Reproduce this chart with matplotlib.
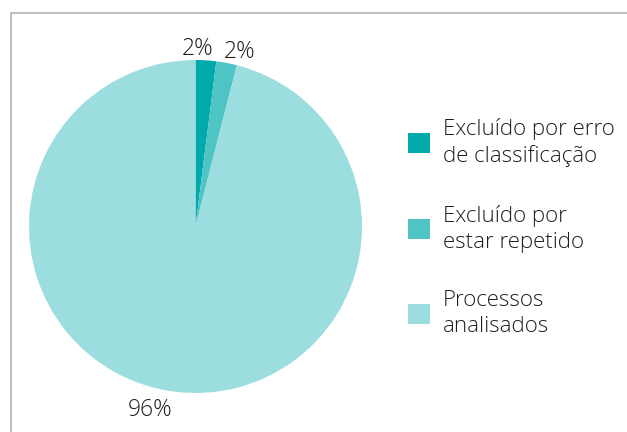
import matplotlib.pyplot as plt
from matplotlib.patches import Rectangle

# data
categories = ["Excluído por erro\nde classificação", "Excluído por\nestar repetido",
              "Processos\nanalisados"]
values = [2, 2, 96]
pct_labels = ["2%", "2%", "96%"]
colors = ["#00A9AA", "#4EC4C4", "#9CDEDF"]

plt.rcParams['font.family'] = ['Open Sans', 'DejaVu Sans']

W, H = 627, 432
fig = plt.figure(figsize=(W / 100, H / 100), dpi=100)

# pie axes: center (195.5, 226.5) px, radius 166.5 px
cx, cy, r = 195.5, 226.5, 166.5
ax = fig.add_axes([(cx - r) / W, (H - cy - r) / H, 2 * r / W, 2 * r / H])
wedges, _ = ax.pie(values, colors=colors, startangle=90, counterclock=False,
                   radius=1, wedgeprops=dict(linewidth=0))
ax.set_xlim(-1, 1)
ax.set_ylim(-1, 1)
ax.set_aspect('auto')
ax.axis('off')

# percentage labels (placed like the original, outside the pie)
label_pos = [(0.01, 1.066), (0.267, 1.048), (-0.273, -1.10)]
for (x, y), t in zip(label_pos, pct_labels):
    ax.text(x, y, t, ha='center', va='center', fontsize=16.5, fontweight='light',
            color='#1f1f1f', clip_on=False)

leg = fig.legend(wedges, categories, loc='upper left',
                 bbox_to_anchor=(387.5 / W, 1 - 98 / H), frameon=False,
                 prop=dict(size=16, weight='light'), labelcolor='#1f1f1f',
                 handlelength=1.0, handleheight=1.0, handletextpad=0.6,
                 labelspacing=1.7)
for t in leg.get_texts():
    t.set_linespacing(1.3)

# outer frame (only top/left visible in the crop)
fig.patches.append(Rectangle((10.5 / W, -0.1), 1.2, 1 - 13 / H + 0.1,
                             transform=fig.transFigure, fill=False,
                             edgecolor='#bfbfbf', linewidth=1.5))

fig.savefig("out.png", dpi=100)
